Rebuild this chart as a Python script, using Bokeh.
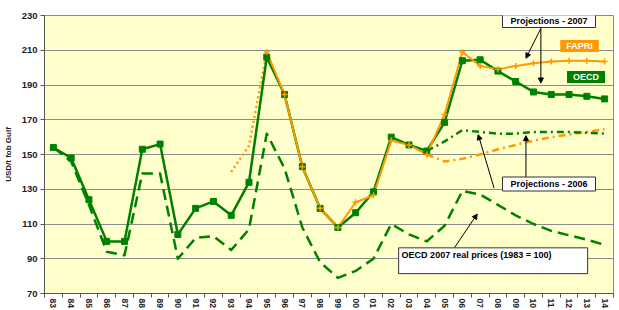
import math
from bokeh.plotting import figure
from bokeh.models import FixedTicker, Label, Arrow, NormalHead, BoxAnnotation
from bokeh.embed import file_html
from bokeh.resources import INLINE

# ---------------- data ----------------
years = ["83", "84", "85", "86", "87", "88", "89", "90", "91", "92", "93", "94",
         "95", "96", "97", "98", "99", "00", "01", "02", "03", "04", "05", "06",
         "07", "08", "09", "10", "11", "12", "13", "14"]

# OECD (history + projections 2007), solid green with squares
oecd_2007 = [154, 148, 124, 100, 100, 153, 156, 104, 119, 123, 115, 134,
             206, 184.5, 143, 119, 108, 116.5, 128.5, 160, 155.5, 152, 168.5, 204,
             204.5, 198, 192, 186, 184.5, 184.5, 183.5, 182]

# FAPRI (history + projections 2007), solid orange with crosses
fapri_2007_years = ["95", "96", "97", "98", "99", "00", "01", "02", "03", "04",
                    "05", "06", "07", "08", "09", "10", "11", "12", "13", "14"]
fapri_2007 = [209, 184.5, 143, 119, 108, 122.5, 126.5, 158, 155.5, 150,
              173, 209, 201, 199, 201, 202.5, 203.5, 204, 204, 203.5]

# FAPRI early segment, dotted orange
fapri_early_years = ["93", "94", "95"]
fapri_early = [140, 155, 209]

# OECD 2007 real prices (1983 = 100), long-dashed green
real_prices = [154, 146, 121, 94, 92, 139, 139, 90, 102, 103, 95, 107,
               162, 142, 108, 88, 79, 83, 90, 110, 104, 100, 109, 129,
               127, 121, 115, 110, 106, 103.5, 101, 98]

# Projections 2006
proj2006_years = ["04", "05", "06", "07", "08", "09", "10", "11", "12", "13", "14"]
oecd_2006 = [152, 157.5, 164, 163, 162, 162, 163, 163, 163, 162.5, 162]
fapri_2006 = [150, 146, 147.5, 150, 153, 155.5, 158, 160, 161.5, 163, 164.5]

y_ticks = [70, 90, 110, 130, 150, 170, 190, 210, 230]

# ---------------- styling ----------------
GREEN = "#008000"
ORANGE = "#FF9900"
FONT = "Liberation Sans"
FRAME = "#8C8C8C"

idx = {y: i for i, y in enumerate(years)}


def xs_of(labels):
    return [idx[l] for l in labels]


# layout helpers: pixel position in the 619x310 canvas -> data coordinates
W, H = 619, 310
L, R, T, B = 41, 613, 15, 295
def dx(px):
    return (px - L) / ((R - L) / 32.0) - 0.5
def dy(py):
    return 230 - (py - T) / ((B - T) / 160.0)


p = figure(width=W, height=H, x_range=(-0.5, 31.5), y_range=(70, 230),
           output_backend="svg", toolbar_location=None,
           min_border_left=L, min_border_right=W - R, min_border_top=T,
           min_border_bottom=H - B,
           background_fill_color="#FFFFCC", border_fill_color="white",
           outline_line_color=FRAME)

p.xgrid.visible = False
p.ygrid.grid_line_color = FRAME
p.ygrid.grid_line_width = 1
p.ygrid.ticker = FixedTicker(ticks=y_ticks)

p.yaxis.ticker = FixedTicker(ticks=y_ticks)
p.yaxis.minor_tick_line_color = None
p.yaxis.major_tick_in = 0
p.yaxis.major_tick_out = 4
p.yaxis.major_label_standoff = 3
p.yaxis.major_label_text_font = FONT
p.yaxis.major_label_text_font_style = "bold"
p.yaxis.major_label_text_font_size = "9.5px"
p.yaxis.major_label_text_color = "#222222"
p.yaxis.axis_line_color = "#555555"
p.yaxis.major_tick_line_color = "#555555"
p.yaxis.axis_label = "USD/t fob Gulf"
p.yaxis.axis_label_text_font = FONT
p.yaxis.axis_label_text_font_style = "bold"
p.yaxis.axis_label_text_font_size = "8px"
p.yaxis.axis_label_text_color = "#222222"
p.yaxis.axis_label_standoff = 6

xa = p.xaxis[0]
xa.ticker = FixedTicker(ticks=list(range(len(years))),
                        minor_ticks=[i - 0.5 for i in range(len(years) + 1)])
xa.major_label_overrides = {i: y for i, y in enumerate(years)}
xa.major_tick_in = 0
xa.major_tick_out = 0
xa.minor_tick_in = 0
xa.minor_tick_out = 4
xa.minor_tick_line_color = "#555555"
xa.axis_line_color = "#555555"
xa.major_label_orientation = -math.pi / 2
xa.major_label_standoff = 1
xa.major_label_text_font = FONT
xa.major_label_text_font_style = "bold"
xa.major_label_text_font_size = "8.5px"
xa.major_label_text_color = "#222222"

xs_all = list(range(len(years)))

# real prices (long dash)
p.line(xs_all, real_prices, line_color=GREEN, line_width=2.5, line_dash="11 6",
       line_join="round")

# projections 2006
p.line(xs_of(proj2006_years), fapri_2006, line_color=ORANGE, line_width=2.5,
       line_dash="7 4 2 4")
p.line(xs_of(proj2006_years), oecd_2006, line_color=GREEN, line_width=2.5,
       line_dash="7 4 2 4")

# FAPRI early dotted
p.line(xs_of(fapri_early_years), fapri_early, line_color=ORANGE, line_width=2.5,
       line_dash="2 3")

# OECD 2007 and FAPRI 2007
p.line(xs_all, oecd_2007, line_color=GREEN, line_width=2.5)
p.line(xs_of(fapri_2007_years), fapri_2007, line_color=ORANGE, line_width=2)
p.scatter(xs_all, oecd_2007, marker="square", size=6,
          fill_color=GREEN, line_color=GREEN)
p.scatter(xs_of(fapri_2007_years), fapri_2007, marker="cross", size=6,
          line_color=ORANGE, line_width=1.5)

# ---------------- annotations ----------------
def arrow(x0, y0, x1, y1):
    p.add_layout(Arrow(end=NormalHead(size=5, fill_color="black", line_color="black"),
                       x_start=dx(x0), y_start=dy(y0), x_end=dx(x1), y_end=dy(y1),
                       line_color="black", line_width=1, level="overlay"))

arrow(540, 28, 525, 58)
arrow(540, 28, 540, 83)
arrow(525, 179, 525, 136)
arrow(493, 189, 477, 135)
arrow(453, 249, 476, 215)

p.add_layout(BoxAnnotation(left=dx(397), right=dx(587), top=dy(249), bottom=dy(275),
                           fill_color="white", fill_alpha=1, line_color="#333333",
                           line_width=1, line_alpha=1, level="overlay"))
p.add_layout(Label(x=dx(400), y=dy(256), text="OECD 2007 real prices (1983 = 100)",
                   text_font=FONT, text_font_style="bold", text_font_size="9px",
                   text_align="left", text_baseline="middle", text_color="black",
                   level="overlay"))


def boxed(cx, cy, text, fill, color, border, pad):
    # screen units are measured from the frame's bottom-left corner
    p.add_layout(Label(x=cx - L, y=B - cy, x_units="screen", y_units="screen",
                       text=text, text_font=FONT,
                       text_font_style="bold", text_font_size="9px",
                       text_align="center", text_baseline="middle", text_color=color,
                       background_fill_color=fill, background_fill_alpha=1,
                       border_line_color=border, border_line_width=1,
                       padding=pad, level="overlay"))

boxed(545.5, 22, "Projections - 2007", "white", "black", "#333333", (8, 8, 2, 2))
boxed(545.5, 185.5, "Projections - 2006", "white", "black", "#333333", (8, 8, 2, 2))
boxed(576, 47.5, "FAPRI", ORANGE, "white", None, (6, 6, 1, 1))
boxed(582.5, 78.5, "OECD", GREEN, "white", None, (6, 6, 1, 1))

open("out.html", "w").write(file_html(p, INLINE))
